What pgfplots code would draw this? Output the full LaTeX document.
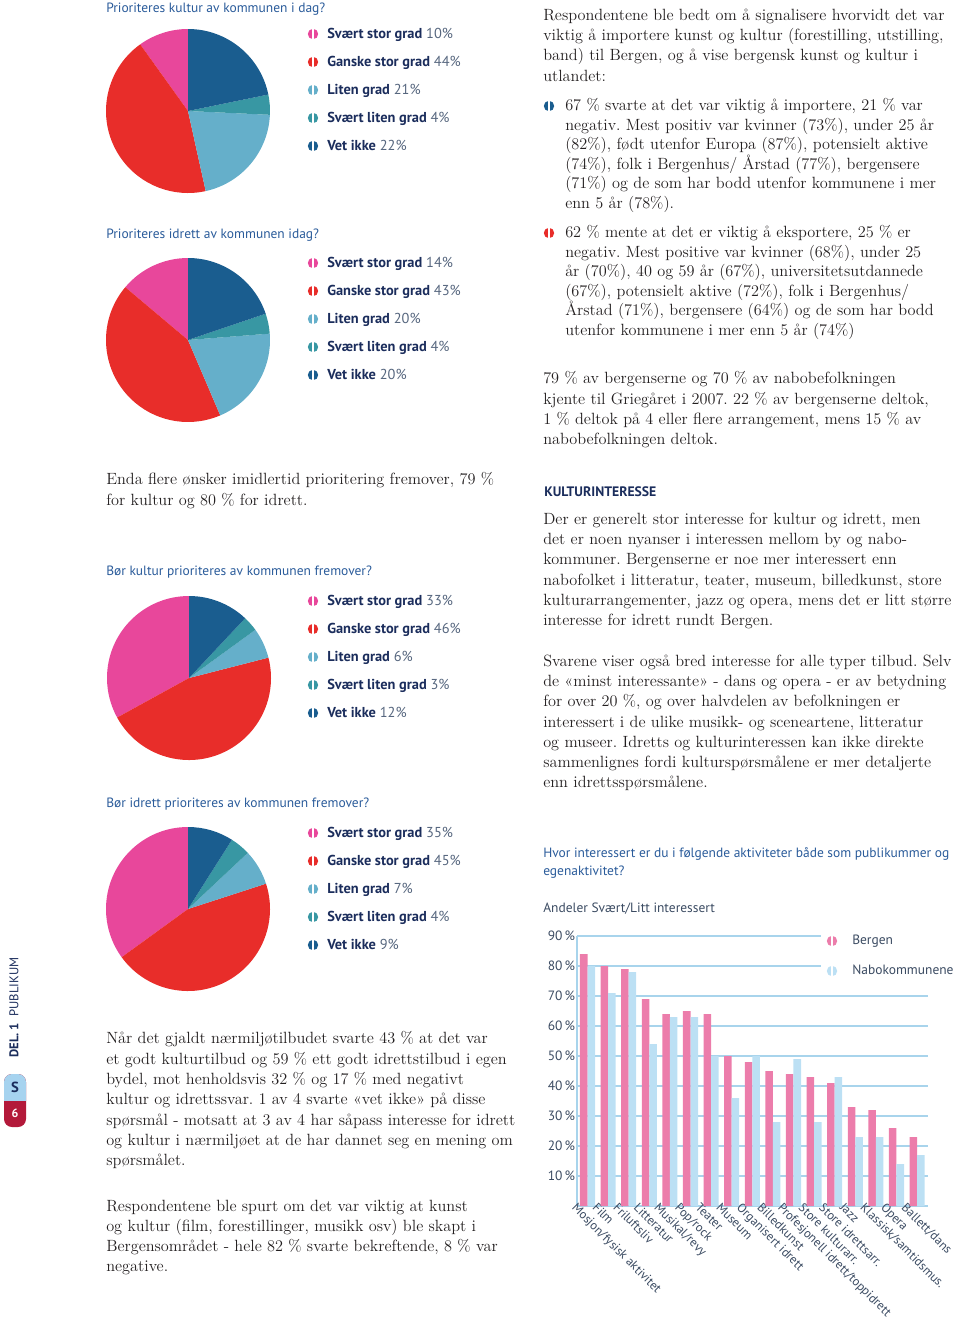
\documentclass[border=0pt]{standalone}
\usepackage{fontspec}
\setsansfont{PT Sans}
\usepackage{pgfplots}
\pgfplotsset{compat=1.18}
\frenchspacing

\definecolor{cpink}{HTML}{E8479B}
\definecolor{cred}{HTML}{E82D2A}
\definecolor{clight}{HTML}{65AFCA}
\definecolor{cteal}{HTML}{3897A3}
\definecolor{cdark}{HTML}{1A5D8F}
\definecolor{cnavy}{HTML}{1B2D5C}
\definecolor{ctitle}{HTML}{2A5B9A}
\definecolor{cnum}{HTML}{56667E}
\definecolor{barpink}{HTML}{EC7DAB}
\definecolor{barblue}{HTML}{BCE0F4}
\definecolor{gridblue}{HTML}{A8D4EC}
\definecolor{ctick}{HTML}{3B4B62}
\definecolor{tabblue}{HTML}{A6D3EF}
\definecolor{tabred}{HTML}{B3193A}
\definecolor{ctext}{HTML}{231F20}

\newcommand\bodyfont{\fontsize{12.2}{15.2}\selectfont}
\newcommand\sansf{\sffamily\fontsize{10.1}{12}\selectfont}
\newcommand\legf{\sffamily\fontsize{10.8}{12}\selectfont}

% split dot used as legend marker and bullet
\newcommand\splitdot[3]{%
  \fill[#3] (#1,#2) circle[radius=5.2];
  \fill[white] (#1-0.7,#2-6) rectangle (#1+0.7,#2+6);}
\newcommand\legrow[4]{%
  \splitdot{313}{#1}{#2}
  \node[anchor=base west, inner sep=0, font=\legf] at (327,#1+4)
    {\textcolor{cnavy}{\bfseries #3} \textcolor{cnum}{#4}};}
\newcommand\slice[3]{\fill[#3] (0,0) -- (#1:82) arc[start angle=#1, end angle=#2, radius=82] -- cycle;}
% pie: centre x, y, then svaert stor, ganske stor, liten, svaert liten, vet ikke
\newcommand\pie[7]{%
  \begin{scope}[shift={(#1,#2)}, yscale=-1]
  \pgfmathsetmacro\pk{360/(#3+#4+#5+#6+#7)}
  \pgfmathsetmacro\aB{90+#3*\pk}
  \pgfmathsetmacro\aC{\aB+#4*\pk}
  \pgfmathsetmacro\aD{\aC+#5*\pk}
  \pgfmathsetmacro\aE{\aD+#6*\pk}
  \slice{90}{\aB}{cpink}
  \slice{\aB}{\aC}{cred}
  \slice{\aC}{\aD}{clight}
  \slice{\aD}{\aE}{cteal}
  \slice{\aE}{450}{cdark}
  \end{scope}}
\newcommand\pielegend[6]{%
  \legrow{#1}{cpink}{Svært stor grad}{#2\%}
  \legrow{#1+28}{cred}{Ganske stor grad}{#3\%}
  \legrow{#1+56}{clight}{Liten grad}{#4\%}
  \legrow{#1+84}{cteal}{Svært liten grad}{#5\%}
  \legrow{#1+112}{cdark}{Vet ikke}{#6\%}}

\begin{document}
\begin{tikzpicture}
\begin{scope}[x=0.75pt, y=-0.75pt]
\path[use as bounding box] (0,0) rectangle (960,1322);

% ---- left column: pies
\node[anchor=base west, inner sep=0, font=\sansf, text=ctitle] at (106,12) {Prioriteres kultur av kommunen i dag?};
\pie{188}{111}{10}{44}{21}{4}{22}
\pielegend{34}{10}{44}{21}{4}{22}

\node[anchor=base west, inner sep=0, font=\sansf, text=ctitle] at (106,238) {Prioriteres idrett av kommunen idag?};
\pie{188}{340}{14}{43}{20}{4}{20}
\pielegend{263}{14}{43}{20}{4}{20}

\node[anchor=north west, inner sep=0, align=left, text=ctext, font=\fontsize{12.2}{15.6}\selectfont] at (106,472.5)
{Enda flere ønsker imidlertid prioritering fremover, 79 \%\\for kultur og 80 \% for idrett.};

\node[anchor=base west, inner sep=0, font=\sansf, text=ctitle] at (106,575) {Bør kultur prioriteres av kommunen fremover?};
\pie{189}{678}{33}{46}{6}{3}{12}
\pielegend{601}{33}{46}{6}{3}{12}

\node[anchor=base west, inner sep=0, font=\sansf, text=ctitle] at (106,807) {Bør idrett prioriteres av kommunen fremover?};
\pie{188}{909}{35}{45}{7}{4}{9}
\pielegend{833}{35}{45}{7}{4}{9}

\node[anchor=north west, inner sep=0, align=left, text=ctext, font=\bodyfont] at (106,1031.5)
{Når det gjaldt nærmiljøtilbudet svarte 43 \% at det var\\
et godt kulturtilbud og 59 \% ett godt idrettstilbud i egen\\
bydel, mot henholdsvis 32 \% og 17 \% med negativt\\
kultur og idrettssvar. 1 av 4 svarte «vet ikke» på disse\\
spørsmål - motsatt at 3 av 4 har såpass interesse for idrett\\
og kultur i nærmiljøet at de har dannet seg en mening om\\
spørsmålet.};

\node[anchor=north west, inner sep=0, align=left, text=ctext, font=\bodyfont] at (106,1199.5)
{Respondentene ble spurt om det var viktig at kunst\\
og kultur (film, forestillinger, musikk osv) ble skapt i\\
Bergensområdet - hele 82 \% svarte bekreftende, 8 \% var\\
negative.};

% ---- side tab
\node[rotate=90, anchor=base west, inner sep=0, font=\sffamily\fontsize{9.5}{10}\selectfont, text=cnavy] at (18.5,1058)
{\bfseries DEL. 1\enspace\mdseries PUBLIKUM};
\fill[tabred, rounded corners=6pt] (4,1074) rectangle (26,1127);
\begin{scope}
\clip (0,1070) rectangle (30,1100);
\fill[tabblue, rounded corners=6pt] (4,1074) rectangle (26,1127);
\end{scope}
\node[font=\sffamily\bfseries\fontsize{11}{12}\selectfont, text=cnavy] at (15,1087) {S};
\node[font=\sffamily\bfseries\fontsize{9}{10}\selectfont, text=white] at (15,1113) {6};

% ---- right column
\node[anchor=north west, inner sep=0, align=left, text=ctext, font=\bodyfont] at (543,8.5)
{Respondentene ble bedt om å signalisere hvorvidt det var\\
viktig å importere kunst og kultur (forestilling, utstilling,\\
band) til Bergen, og å vise bergensk kunst og kultur i\\
utlandet:};

\splitdot{549}{106}{cdark}
\node[anchor=north west, inner sep=0, align=left, text=ctext, font=\fontsize{12.2}{14.6}\selectfont] at (565,98.5)
{67 \% svarte at det var viktig å importere, 21 \% var\\
negativ. Mest positiv var kvinner (73\%), under 25 år\\
(82\%), født utenfor Europa (87\%), potensielt aktive\\
(74\%), folk i Bergenhus/ Årstad (77\%), bergensere\\
(71\%) og de som har bodd utenfor kommunene i mer\\
enn 5 år (78\%).};

\splitdot{549}{233}{cred}
\node[anchor=north west, inner sep=0, align=left, text=ctext, font=\fontsize{12.2}{14.6}\selectfont] at (565,225.5)
{62 \% mente at det er viktig å eksportere, 25 \% er\\
negativ. Mest positive var kvinner (68\%), under 25\\
år (70\%), 40 og 59 år (67\%), universitetsutdannede\\
(67\%), potensielt aktive (72\%), folk i Bergenhus/\\
Årstad (71\%), bergensere (64\%) og de som har bodd\\
utenfor kommunene i mer enn 5 år (74\%)};

\node[anchor=north west, inner sep=0, align=left, text=ctext, font=\bodyfont] at (543,371.5)
{79 \% av bergenserne og 70 \% av nabobefolkningen\\
kjente til Griegåret i 2007. 22 \% av bergenserne deltok,\\
1 \% deltok på 4 eller flere arrangement, mens 15 \% av\\
nabobefolkningen deltok.};

\node[anchor=base west, inner sep=0, font=\sffamily\bfseries\fontsize{10.3}{12}\selectfont, text=cnavy] at (544,496.5) {KULTURINTERESSE};

\node[anchor=north west, inner sep=0, align=left, text=ctext, font=\bodyfont] at (543,512.5)
{Der er generelt stor interesse for kultur og idrett, men\\
det er noen nyanser i interessen mellom by og nabo-\\
kommuner. Bergenserne er noe mer interessert enn\\
nabofolket i litteratur, teater, museum, billedkunst, store\\
kulturarrangementer, jazz og opera, mens det er litt større\\
interesse for idrett rundt Bergen.};

\node[anchor=north west, inner sep=0, align=left, text=ctext, font=\bodyfont] at (543,654.5)
{Svarene viser også bred interesse for alle typer tilbud. Selv\\
de «minst interessante» - dans og opera - er av betydning\\
for over 20 \%, og over halvdelen av befolkningen er\\
interessert i de ulike musikk- og sceneartene, litteratur\\
og museer. Idretts og kulturinteressen kan ikke direkte\\
sammenlignes fordi kulturspørsmålene er mer detaljerte\\
enn idrettsspørsmålene.};

\node[anchor=base west, inner sep=0, font=\sansf, text=ctitle] at (543,857) {Hvor interessert er du i følgende aktiviteter både som publikummer og};
\node[anchor=base west, inner sep=0, font=\sansf, text=ctitle] at (543,875) {egenaktivitet?};
\node[anchor=base west, inner sep=0, font=\sansf, text=ctick] at (543,912) {Andeler Svært/Litt interessert};
\end{scope}

% ---- bar chart
\begin{axis}[
  at={(432.75pt,-904.5pt)}, anchor=south west,
  scale only axis, width=263.25pt, height=202.5pt,
  xmin=-0.51, xmax=16.53, ymin=0, ymax=90,
  ybar=0pt, bar width=0.365,
  axis x line=bottom, axis y line=left,
  axis line style={gridblue, line width=0.9pt, -},
  ytick={10,20,...,90}, ymajorgrids,
  grid style={gridblue, line width=0.9pt},
  major tick length=0pt,
  /pgf/number format/assume math mode=true,
  yticklabel={\pgfmathprintnumber{\tick}\,\%},
  yticklabel style={font=\sansf, text=ctick, inner sep=1.2pt},
  xtick={0,...,16},
  xticklabels={Mosjon/fysisk aktivitet, Film, Friluftsliv, Litteratur, Musikal/revy, Pop/rock, Teater, Museum, Organisert idrett, Billedkunst, Profesjonell idrett/toppidrett, Store kulturarr., Store idrettsarr., Jazz, Klassisk/samtidsmus., Opera, Ballett/dans},
  xticklabel style={rotate=-45, anchor=north west, font=\sffamily\fontsize{9.4}{10}\selectfont, text=ctick, inner sep=0pt, xshift=-7.5pt, yshift=-3pt},
]
\addplot[fill=barpink, draw=none] coordinates {(0,84) (1,80) (2,79) (3,69) (4,64) (5,65) (6,64) (7,50) (8,48) (9,45) (10,44) (11,43) (12,41) (13,33) (14,32) (15,26) (16,23)};
\addplot[fill=barblue, draw=none] coordinates {(0,80) (1,71) (2,78) (3,54) (4,63) (5,63) (6,50) (7,36) (8,50) (9,28) (10,49) (11,28) (12,43) (13,23) (14,23) (15,14) (16,17)};
\end{axis}

% ---- legend of the bar chart
\begin{scope}[x=0.75pt, y=-0.75pt]
\fill[white] (821,926) rectangle (935,980);
\splitdot{832}{941}{barpink}
\node[anchor=base west, inner sep=0, font=\sansf, text=ctick] at (852,944.8) {Bergen};
\splitdot{832}{971}{barblue}
\node[anchor=base west, inner sep=0, font=\sansf, text=ctick] at (852,974.8) {Nabokommunene};
\end{scope}
\end{tikzpicture}
\end{document}
